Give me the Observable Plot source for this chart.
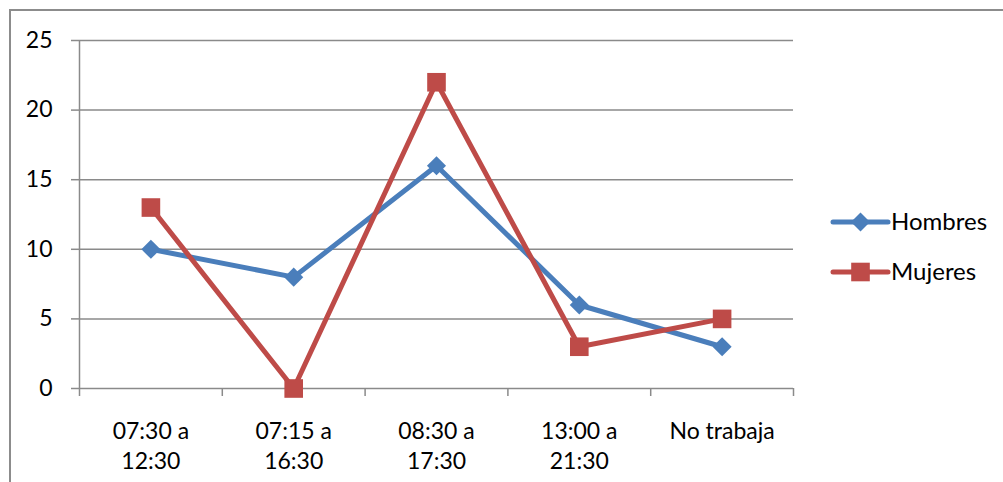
<!DOCTYPE html>
<html>
<head>
<meta charset="utf-8">
<script src="https://cdn.jsdelivr.net/npm/d3@7"></script>
<script src="https://cdn.jsdelivr.net/npm/@observablehq/plot@0.6"></script>
<style>
  html, body { margin: 0; padding: 0; background: #fff; }
  #wrap { position: relative; width: 1003px; height: 482px; overflow: hidden; }
  #frame { position: absolute; left: 9px; top: 9px; width: 1000px; height: 480px;
           border-top: 2px solid #8c8c8c; border-left: 2px solid #8c8c8c; pointer-events: none; }
</style>
</head>
<body>
<div id="wrap"><div id="frame"></div></div>
<script>
const categories = ["07:30 a\n12:30", "07:15 a\n16:30", "08:30 a\n17:30", "13:00 a\n21:30", "No trabaja"];
const seriesNames = ["Hombres", "Mujeres"];
const hombres = [10, 8, 16, 6, 3];
const mujeres = [13, 0, 22, 3, 5];
const yTicks = [0, 5, 10, 15, 20, 25];
const colors = ["#4a7ebb", "#be4b48"];

const data = [
  ...hombres.map((v, i) => ({i, value: v, series: "Hombres"})),
  ...mujeres.map((v, i) => ({i, value: v, series: "Mujeres"}))
];
const boundaries = d3.range(categories.length + 1).map(k => k - 0.5);
const grid = "#8a8a8a";
const rDiamond = 8.6, rSquare = 10.5;

const chart = Plot.plot({
  width: 1003, height: 482,
  marginLeft: 79, marginRight: 210, marginTop: 40, marginBottom: 94,
  x: {type: "linear", domain: [-0.5, categories.length - 0.5]},
  y: {domain: [0, 25]},
  color: {domain: seriesNames, range: colors},
  style: {fontFamily: "Lato, sans-serif", fontSize: "23px", color: "#000", background: "transparent", overflow: "visible"},
  marks: [
    Plot.ruleY(yTicks, {stroke: grid, strokeWidth: 1.5}),
    Plot.ruleX([-0.5], {y1: 0, y2: 25, stroke: grid, strokeWidth: 1.5}),
    Plot.axisY({ticks: yTicks, tickSize: 8, tickPadding: 19, stroke: grid, strokeWidth: 1.5, label: null, fontSize: 23}),
    Plot.axisX({ticks: boundaries, tickSize: 8, tickFormat: () => "", stroke: grid, strokeWidth: 1.5, label: null}),
    Plot.axisX({ticks: d3.range(categories.length), tickSize: 0, tickPadding: 29, tickFormat: i => categories[i], lineHeight: 1.3, label: null, fontSize: 23}),
    Plot.line(data, {x: "i", y: "value", z: "series", stroke: "series", strokeWidth: 5, strokeLinejoin: "round"}),
    Plot.dot(data.filter(d => d.series === "Hombres"), {x: "i", y: "value", symbol: () => "diamond2", r: rDiamond, fill: colors[0], stroke: "none"}),
    Plot.dot(data.filter(d => d.series === "Mujeres"), {x: "i", y: "value", symbol: () => "square", r: rSquare, fill: colors[1], stroke: "none"})
  ]
});
document.getElementById("wrap").prepend(chart);

// Legend
const svg = d3.select(chart);
const leg = svg.append("g").attr("font-family", "Lato, sans-serif").attr("font-size", "24px").attr("text-anchor", "start");
const legY = [222, 272];
seriesNames.forEach((name, k) => {
  const g = leg.append("g").attr("transform", `translate(0,${legY[k]})`);
  g.append("line").attr("x1", 833).attr("x2", 888).attr("y1", 0).attr("y2", 0)
    .attr("stroke", colors[k]).attr("stroke-width", 5).attr("stroke-linecap", "round");
  const sym = k === 0 ? d3.symbol(d3.symbolDiamond2, rDiamond * rDiamond * Math.PI)
                      : d3.symbol(d3.symbolSquare, rSquare * rSquare * Math.PI);
  g.append("path").attr("d", sym()).attr("transform", "translate(860.5,0)").attr("fill", colors[k]);
  g.append("text").attr("x", 891).attr("y", 0).attr("dy", "0.35em").attr("fill", "#000").text(name);
});
</script>
</body>
</html>
